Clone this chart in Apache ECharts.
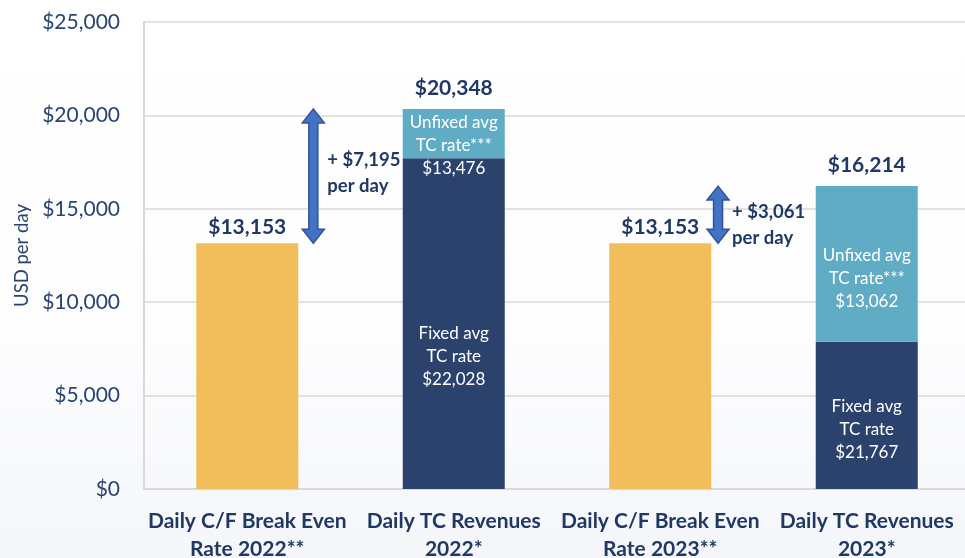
<!DOCTYPE html>
<html>
<head>
<meta charset="utf-8">
<script src="https://cdn.jsdelivr.net/npm/echarts@6/dist/echarts.min.js"></script>
<style>
  html, body { margin: 0; padding: 0; }
  #chart { width: 965px; height: 558px; }
</style>
</head>
<body>
<div id="chart"></div>
<script>
const categories = [
  "Daily C/F Break Even\nRate 2022**",
  "Daily TC Revenues\n2022*",
  "Daily C/F Break Even\nRate 2023**",
  "Daily TC Revenues\n2023*"
]
const breakEven = [13153, null, 13153, null]
const fixedPart = [null, 17701, null, 7882]
const unfixedPart = [null, 2647, null, 8332]
const tcTotal = [null, 20348, null, 16214]
const fixedRate = [null, 22028, null, 21767]
const unfixedRate = [null, 13476, null, 13062]

// gap arrows: x position on a hidden 0..3 axis, from break even to total
const arrowX = [0.32, 2.28]
const arrowLow = [13153, 13153]
const arrowHigh = [20348, 16214]

const navyText = "#203864"
const money = v => "$" + v.toLocaleString("en-US")

// label nudges, copied from the slide
const fixedDy = [0, 33, 0, 14]
const unfixedDy = [0, 12, 0, 15]
const arrowTextDy = [-3, 10]

const chart = echarts.init(document.getElementById("chart"))

chart.setOption({
  backgroundColor: {
    type: "linear", x: 0, y: 0, x2: 0, y2: 1,
    colorStops: [
      { offset: 0, color: "#ffffff" },
      { offset: 0.6, color: "#fdfdfe" },
      { offset: 1, color: "#f4f6fa" }
    ]
  },
  textStyle: { fontFamily: "Lato" },
  grid: { left: 144, right: -5, top: 22, bottom: 69, outerBoundsMode: "none" },
  xAxis: [
    {
      type: "category",
      data: categories,
      axisLine: { lineStyle: { color: "#d9d9d9", width: 2 } },
      axisTick: { show: false },
      axisLabel: {
        color: navyText,
        fontSize: 21,
        fontWeight: "bold",
        lineHeight: 28,
        margin: 18,
        interval: 0
      }
    },
    { type: "value", min: -0.5, max: 3.5, show: false }
  ],
  yAxis: {
    type: "value",
    min: 0,
    max: 25000,
    interval: 5000,
    name: "USD per day",
    nameLocation: "middle",
    nameGap: 110,
    nameTextStyle: { color: "#2a4470", fontSize: 18.5 },
    axisLine: { show: true, onZero: false, lineStyle: { color: "#d9d9d9", width: 2 } },
    axisTick: { show: false },
    splitLine: { lineStyle: { color: "#d9d9d9", width: 1.5 } },
    axisLabel: {
      color: "#2a4470",
      fontSize: 21,
      margin: 24,
      formatter: v => money(v)
    }
  },
  series: [
    {
      name: "Break even",
      type: "bar",
      barWidth: 102,
      barGap: "-100%",
      data: breakEven,
      itemStyle: { color: "#f2be5c" },
      label: {
        show: true,
        position: "top",
        distance: 6,
        color: navyText,
        fontSize: 21,
        fontWeight: "bold",
        formatter: p => money(p.value)
      }
    },
    {
      name: "Fixed",
      type: "bar",
      stack: "tc",
      barWidth: 102,
      data: fixedPart.map((v, i) => ({
        value: v,
        label: { offset: [0, fixedDy[i]] }
      })),
      itemStyle: { color: "#2b426d" },
      label: {
        show: true,
        position: "inside",
        color: "#ffffff",
        fontSize: 17,
        lineHeight: 23,
        formatter: p => "Fixed avg\nTC rate\n" + money(fixedRate[p.dataIndex])
      }
    },
    {
      name: "Unfixed",
      type: "bar",
      stack: "tc",
      barWidth: 102,
      data: unfixedPart.map((v, i) => ({
        value: v,
        label: { offset: [0, unfixedDy[i]] }
      })),
      itemStyle: { color: "#61acc5" },
      label: {
        show: true,
        position: "inside",
        color: "#ffffff",
        fontSize: 17,
        lineHeight: 23,
        formatter: p => "Unfixed avg\nTC rate***\n" + money(unfixedRate[p.dataIndex])
      }
    },
    {
      name: "Total",
      type: "scatter",
      symbolSize: 0,
      itemStyle: { opacity: 1 },
      data: tcTotal.map((v, i) => (v == null ? null : [i, v])),
      label: {
        show: true,
        position: "top",
        distance: 10,
        color: navyText,
        fontSize: 21,
        fontWeight: "bold",
        formatter: p => money(p.value[1])
      },
      silent: true
    },
    {
      name: "Gap",
      type: "custom",
      xAxisIndex: 1,
      data: arrowX.map((x, i) => [x, arrowLow[i], arrowHigh[i]]),
      encode: { x: 0, y: [1, 2] },
      silent: true,
      renderItem: (params, api) => {
        const x = api.value(0)
        const lo = api.value(1)
        const hi = api.value(2)
        const top = api.coord([x, hi])
        const bot = api.coord([x, lo])
        const cx = top[0]
        const t = top[1]
        const b = bot[1]
        const sw = 4.5, hw = 11, hl = 14
        const pts = [
          [cx, t], [cx + hw, t + hl], [cx + sw, t + hl], [cx + sw, b - hl],
          [cx + hw, b - hl], [cx, b], [cx - hw, b - hl], [cx - sw, b - hl],
          [cx - sw, t + hl], [cx - hw, t + hl]
        ]
        return {
          type: "group",
          children: [
            {
              type: "polygon",
              shape: { points: pts },
              style: { fill: "#4472c4", stroke: "#2f5597", lineWidth: 1.5 }
            },
            {
              type: "text",
              x: cx + 14,
              y: (t + b) / 2 + arrowTextDy[params.dataIndex],
              style: {
                text: "+ " + money(hi - lo) + "\nper day",
                fill: navyText,
                font: "bold 18.5px Lato",
                lineHeight: 26,
                align: "left",
                verticalAlign: "middle"
              }
            }
          ]
        }
      }
    }
  ]
})

window.addEventListener("resize", () => {
  chart.resize()
})
</script>
</body>
</html>
